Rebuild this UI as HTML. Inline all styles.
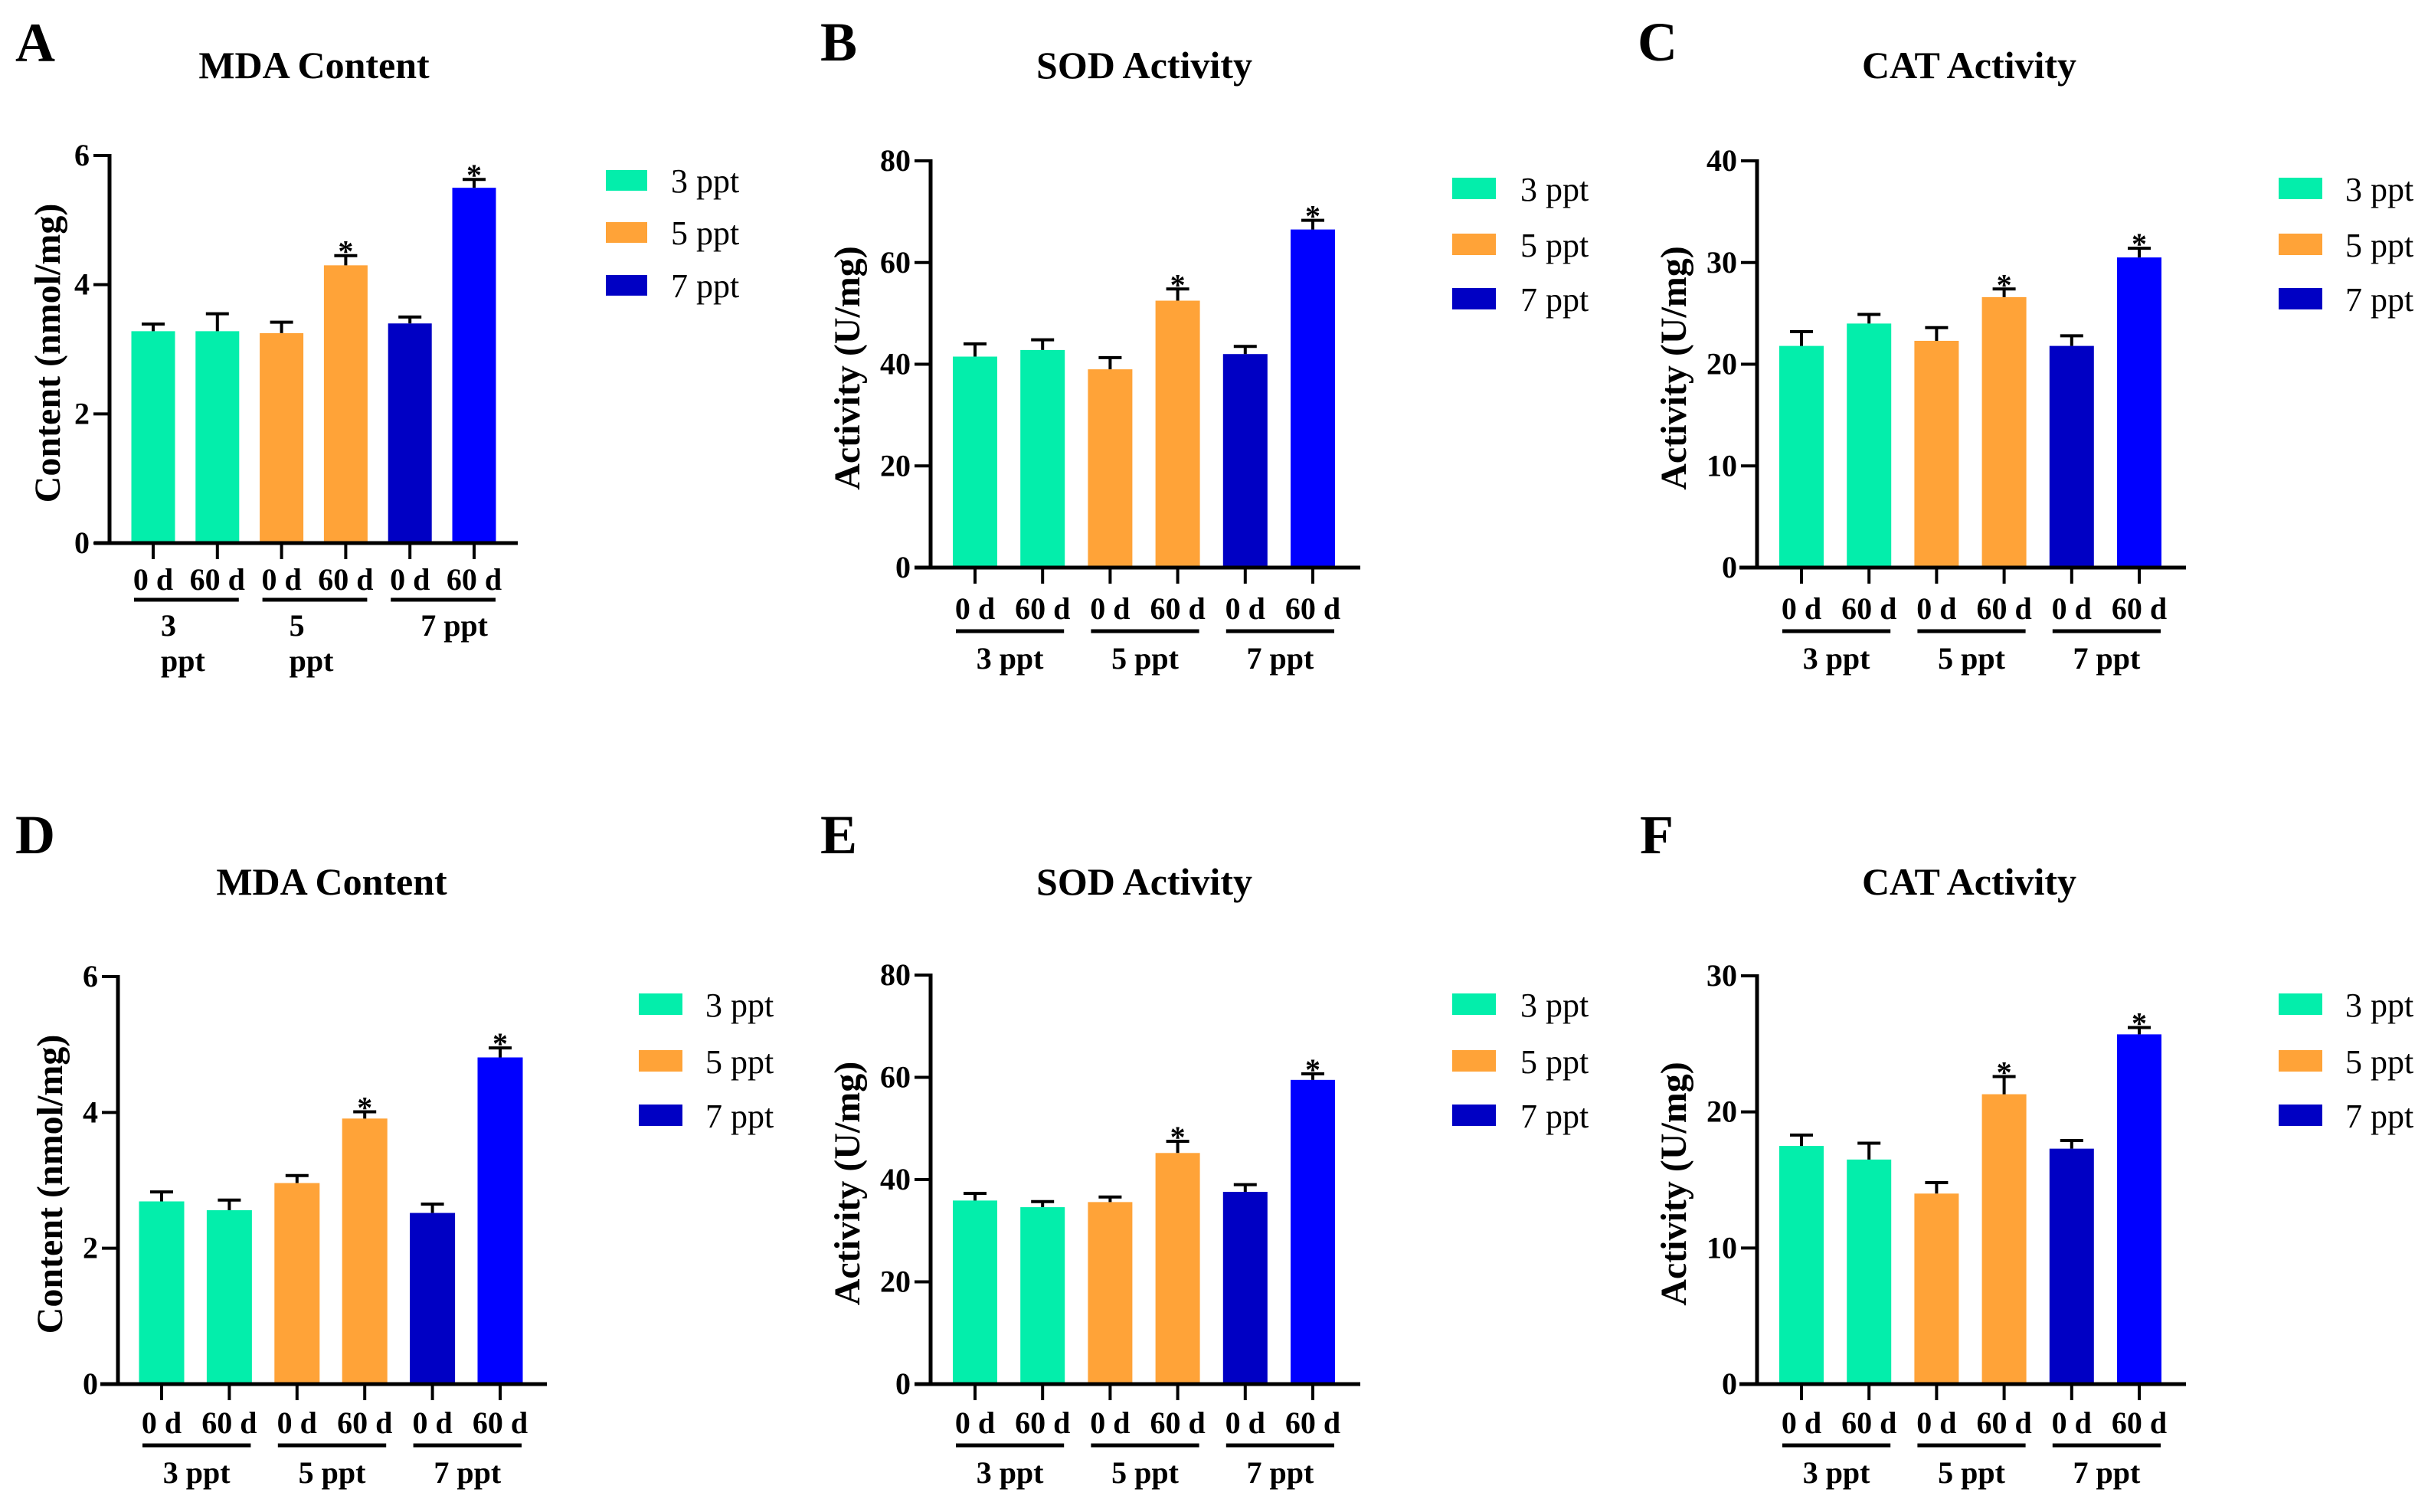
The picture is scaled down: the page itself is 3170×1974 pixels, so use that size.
<!DOCTYPE html>
<html><head><meta charset="utf-8"><style>
html,body{margin:0;padding:0;background:#fff;}
svg{display:block;}
text{font-family:"Liberation Serif","Times New Roman",serif;fill:#000;}
</style></head>
<body>
<svg id="fig" width="3170" height="1974" viewBox="0 0 3170 1974" xmlns="http://www.w3.org/2000/svg"></svg>
<script>
// ---- data ----
const categories = ["0 d","60 d","0 d","60 d","0 d","60 d"];
const groupLabels = ["3 ppt","5 ppt","7 ppt"];
const legendLabels = ["3 ppt","5 ppt","7 ppt"];
const valuesA = [3.28, 3.28, 3.25, 4.30, 3.40, 5.50];
const errorsA = [3.39, 3.55, 3.42, 4.45, 3.50, 5.63];
const valuesB = [41.5, 42.8, 39.0, 52.5, 42.0, 66.5];
const errorsB = [44.0, 44.8, 41.3, 54.8, 43.5, 68.3];
const valuesC = [21.8, 24.0, 22.3, 26.6, 21.8, 30.5];
const errorsC = [23.2, 24.9, 23.6, 27.4, 22.8, 31.4];
const valuesD = [2.69, 2.56, 2.96, 3.91, 2.52, 4.81];
const errorsD = [2.83, 2.71, 3.07, 4.01, 2.65, 4.95];
const valuesE = [35.9, 34.6, 35.6, 45.2, 37.6, 59.5];
const errorsE = [37.3, 35.7, 36.6, 47.5, 39.0, 60.7];
const valuesF = [17.5, 16.5, 14.0, 21.3, 17.3, 25.7];
const errorsF = [18.3, 17.7, 14.8, 22.6, 17.9, 26.2];
const significant = [false, false, false, true, false, true];
const ticksMDA = [0, 2, 4, 6];
const ticksSOD = [0, 20, 40, 60, 80];
const ticksCAT40 = [0, 10, 20, 30, 40];
const ticksCAT30 = [0, 10, 20, 30];

const colors = ["#03EEAB","#03EEAB","#FFA338","#FFA338","#0000C4","#0000FF"];
const legendColors = ["#03EEAB","#FFA338","#0000C4"];
const NS = "http://www.w3.org/2000/svg";
const svg = document.getElementById("fig");
const FONT = '"Liberation Serif", "Times New Roman", serif';

function mk(tag, attrs, parent){
  const e = document.createElementNS(NS, tag);
  for (const k in attrs) e.setAttribute(k, attrs[k]);
  (parent||svg).appendChild(e);
  return e;
}
function txt(parent, x, y, s, size, weight, anchor){
  const t = mk("text", {x:x, y:y, "font-size":size, "font-weight":weight||"bold", "text-anchor":anchor||"middle", "font-family":FONT}, parent);
  t.textContent = s;
  return t;
}

const panels = [
 {id:"a", letter:"A", title:"MDA Content", ylabel:"Content (nmol/mg)", vals:valuesA, errs:errorsA, ticks:ticksMDA,
  ox:143, y0:709, yTop:203, c0:200, sp:83.8, bw:57, xs:123, xe:676, legX:791, legW:54, legYs:[222,290,359], legH:27, textX:876,
  tX:410, tY:102, lX:20, lY:80, ylX:62, catY:770, grpY:783, grpLY:830, wrapA:true},
 {id:"b", letter:"B", title:"SOD  Activity", ylabel:"Activity (U/mg)", vals:valuesB, errs:errorsB, ticks:ticksSOD,
  ox:1215, y0:741, yTop:210, c0:1273, sp:88.2, bw:58, xs:1194, xe:1776, legX:1896, legW:57, legYs:[232,305,376], legH:28, textX:1985,
  tX:1494, tY:102, lX:1071, lY:79, ylX:1106, catY:808, grpY:824, grpLY:873},
 {id:"c", letter:"C", title:"CAT  Activity", ylabel:"Activity (U/mg)", vals:valuesC, errs:errorsC, ticks:ticksCAT40,
  ox:2294, y0:741, yTop:210, c0:2352, sp:88.2, bw:58, xs:2271, xe:2854, legX:2975, legW:57, legYs:[232,305,376], legH:28, textX:3062,
  tX:2571, tY:102, lX:2138, lY:79, ylX:2185, catY:808, grpY:824, grpLY:873},
 {id:"d", letter:"D", title:"MDA  Content", ylabel:"Content (nmol/mg)", vals:valuesD, errs:errorsD, ticks:ticksMDA,
  ox:154, y0:1807, yTop:1275, c0:211, sp:88.4, bw:59, xs:131, xe:714, legX:834, legW:57, legYs:[1297,1371,1442], legH:28, textX:921,
  tX:433, tY:1168, lX:20, lY:1114, ylX:65, catY:1871, grpY:1887, grpLY:1936},
 {id:"e", letter:"E", title:"SOD  Activity", ylabel:"Activity (U/mg)", vals:valuesE, errs:errorsE, ticks:ticksSOD,
  ox:1215, y0:1807, yTop:1273, c0:1273, sp:88.2, bw:58, xs:1194, xe:1776, legX:1896, legW:57, legYs:[1297,1371,1442], legH:28, textX:1985,
  tX:1494, tY:1168, lX:1071, lY:1114, ylX:1106, catY:1871, grpY:1887, grpLY:1936},
 {id:"f", letter:"F", title:"CAT  Activity", ylabel:"Activity (U/mg)", vals:valuesF, errs:errorsF, ticks:ticksCAT30,
  ox:2294, y0:1807, yTop:1274, c0:2352, sp:88.2, bw:58, xs:2271, xe:2854, legX:2975, legW:57, legYs:[1297,1371,1442], legH:28, textX:3062,
  tX:2571, tY:1168, lX:2141, lY:1114, ylX:2185, catY:1871, grpY:1887, grpLY:1936}
];

panels.forEach(p => {
  const g = mk("g", {});
  
  
  const ymax = p.ticks[p.ticks.length-1];
  const yS = v => p.y0 - (v / ymax) * (p.y0 - p.yTop);
  const xS = i => p.c0 + i * p.sp;

  const L = txt(g, p.lX, p.lY, p.letter, 72, "bold", "start");
  
  
  const T = txt(g, p.tX, p.tY, p.title, 50, "bold", "middle");
  
  

  p.vals.forEach((v, i) => {
    const cx = xS(i);
    const r = mk("rect", {x: cx - p.bw/2, y: yS(v), width: p.bw, height: p.y0 - yS(v), fill: colors[i]}, g);
    
    
    const ey = yS(p.errs[i]);
    const eb = mk("path", {d:`M${cx} ${yS(v)} V${ey} M${cx-15} ${ey} H${cx+15}`, stroke:"#000", "stroke-width":4, fill:"none"}, g);
    
    
    if (significant[i]) {
      const s = txt(g, cx, ey + 8, "*", 40, "bold", "middle");
      
      
    }
  });

  const ya = mk("line", {x1:p.ox, y1:p.yTop-2, x2:p.ox, y2:p.y0+2, stroke:"#000", "stroke-width":5}, g);
  
  
  const xa = mk("line", {x1:p.xs, y1:p.y0, x2:p.xe, y2:p.y0, stroke:"#000", "stroke-width":5}, g);
  
  

  p.ticks.forEach(t => {
    const y = yS(t);
    mk("line", {x1:p.ox-21, y1:y, x2:p.ox, y2:y, stroke:"#000", "stroke-width":4}, g);
    const tl = txt(g, p.ox - 26, y + 13, String(t), 40, "bold", "end");
    
    
  });

  categories.forEach((c, i) => {
    const cx = xS(i);
    mk("line", {x1:cx, y1:p.y0, x2:cx, y2:p.y0+21, stroke:"#000", "stroke-width":4}, g);
    const cl = txt(g, cx, p.catY, c, 40, "bold", "middle");
    
    
  });

  groupLabels.forEach((gl, k) => {
    const a = xS(2*k) - 25, b = xS(2*k+1) + 28;
    const ln = mk("line", {x1:a, y1:p.grpY, x2:b, y2:p.grpY, stroke:"#000", "stroke-width":5}, g);
    
    
    if (p.wrapA && k < 2) {
      const parts = gl.split(" ");
      const t1 = txt(g, xS(2*k) + 10, p.grpLY, parts[0], 40, "bold", "start");
      
      
      const t2 = txt(g, xS(2*k) + 10, p.grpLY + 46, parts[1], 40, "bold", "start");
      
      
    } else {
      const t = txt(g, p.wrapA ? xS(2*k) + 14 : (a + b) / 2, p.grpLY, gl, 40, "bold", p.wrapA ? "start" : "middle");
      
      
    }
  });

  const ym = (p.yTop + p.y0) / 2 + 5;
  const yl = mk("text", {x:0, y:0, "font-size":48, "font-weight":"bold", "text-anchor":"middle", "font-family":FONT,
    transform:`translate(${p.ylX + 16},${ym}) rotate(-90)`}, g);
  yl.textContent = p.ylabel;
  
  

  legendLabels.forEach((lab, k) => {
    const sw = mk("rect", {x:p.legX, y:p.legYs[k], width:p.legW, height:p.legH, fill:legendColors[k]}, g);
    
    
    const lt = txt(g, p.textX, p.legYs[k] + p.legH + 2, lab, 44, "normal", "start");
    
    
  });
});
</script>
</body></html>
